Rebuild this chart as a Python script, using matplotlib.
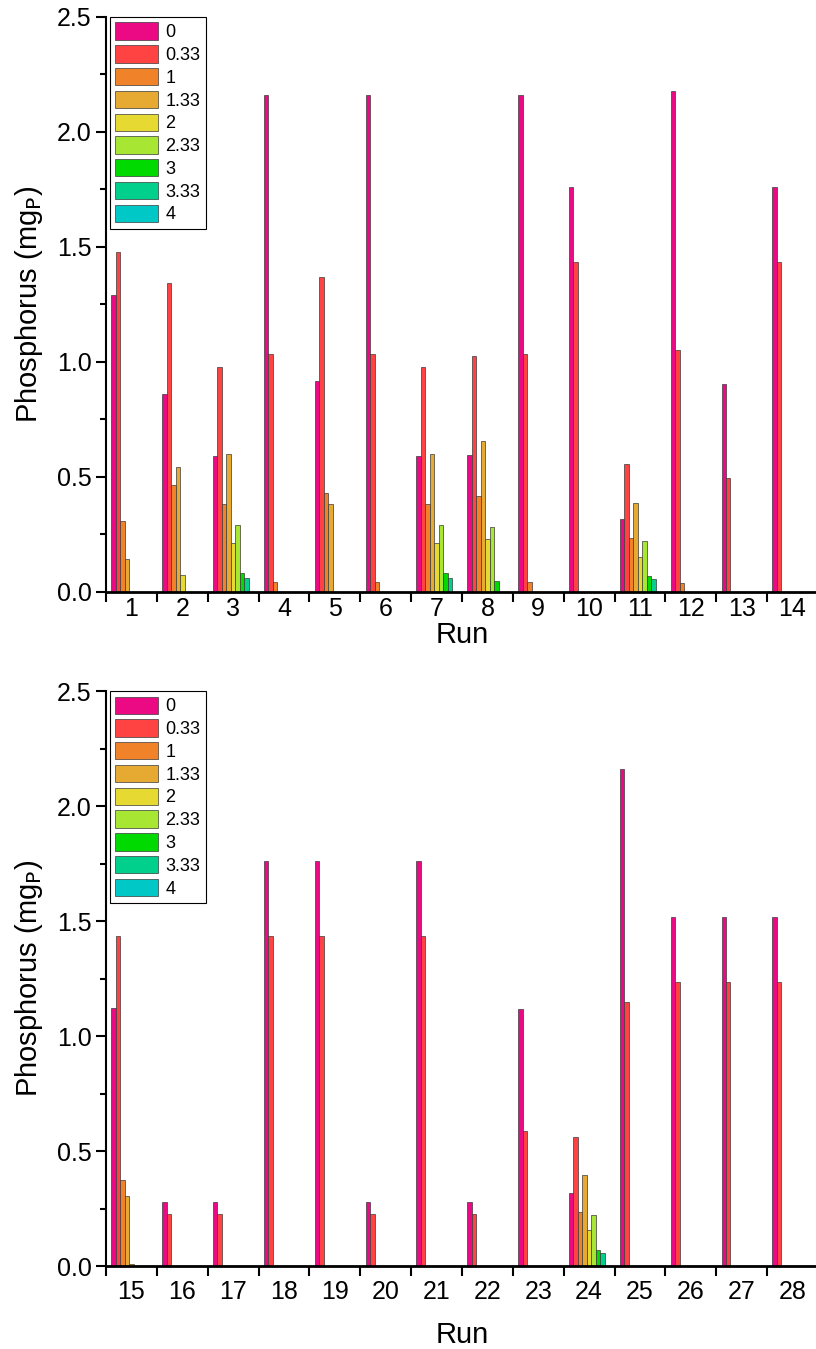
import numpy as np
import matplotlib.pyplot as plt
from matplotlib.ticker import MultipleLocator, FixedLocator

plt.rcParams['font.family'] = ['Liberation Sans', 'DejaVu Sans']

runs = np.arange(1, 29)
doses = ['0', '0.33', '1', '1.33', '2', '2.33', '3', '3.33', '4']
colors = ['#EC0A84', '#FF4242', '#F0832A', '#E6AA32', '#E6DA32',
          '#A8E634', '#00DA00', '#00D08C', '#00C8C6']

# phosphorus per run, one list per dose
p_0 = [1.29, 0.86, 0.59, 2.16, 0.917, 2.16, 0.59, 0.597, 2.16, 1.761, 0.317, 2.178, 0.904, 1.761,
       1.123, 0.277, 0.277, 1.761, 1.761, 0.277, 1.761, 0.277, 1.117, 0.317, 2.16, 1.516, 1.516, 1.516]
p_033 = [1.48, 1.345, 0.978, 1.035, 1.368, 1.035, 0.978, 1.025, 1.035, 1.435, 0.557, 1.051, 0.496, 1.435,
         1.435, 0.226, 0.226, 1.435, 1.435, 0.226, 1.435, 0.226, 0.587, 0.56, 1.15, 1.235, 1.235, 1.235]
p_1 = [0.31, 0.465, 0.383, 0.045, 0.43, 0.045, 0.383, 0.416, 0.045, 0, 0.235, 0.039, 0, 0,
       0.375, 0, 0, 0, 0, 0, 0, 0, 0, 0.235, 0, 0, 0, 0]
p_133 = [0.145, 0.545, 0.599, 0, 0.381, 0, 0.599, 0.655, 0, 0, 0.388, 0, 0, 0,
         0.303, 0, 0, 0, 0, 0, 0, 0, 0, 0.394, 0, 0, 0, 0]
p_2 = [0, 0.074, 0.214, 0, 0, 0, 0.214, 0.232, 0, 0, 0.154, 0, 0, 0,
       0.01, 0, 0, 0, 0, 0, 0, 0, 0, 0.155, 0, 0, 0, 0]
p_233 = [0, 0, 0.29, 0, 0, 0, 0.29, 0.284, 0, 0, 0.222, 0, 0, 0,
         0, 0, 0, 0, 0, 0, 0, 0, 0, 0.223, 0, 0, 0, 0]
p_3 = [0, 0, 0.083, 0, 0, 0, 0.083, 0.048, 0, 0, 0.07, 0, 0, 0,
       0, 0, 0, 0, 0, 0, 0, 0, 0, 0.07, 0, 0, 0, 0]
p_333 = [0, 0, 0.062, 0, 0, 0, 0.062, 0, 0, 0, 0.055, 0, 0, 0,
         0, 0, 0, 0, 0, 0, 0, 0, 0, 0.055, 0, 0, 0, 0]
p_4 = [0] * 28

series = [p_0, p_033, p_1, p_133, p_2, p_233, p_3, p_333, p_4]

fig = plt.figure(figsize=(8.16, 13.49), dpi=100)
ax_top = fig.add_axes([0.1299, 0.5612, 0.8725, 0.4262])
ax_bot = fig.add_axes([0.1299, 0.0615, 0.8725, 0.4262])

w = 0.088
# (axes, runs shown, tick label pad, xlabel pad)
panels = [(ax_top, slice(0, 14), 4, 0), (ax_bot, slice(14, 28), 10, 12)]
for ax, sl, tpad, lpad in panels:
    r = runs[sl]
    pos = np.arange(1, len(r) + 1)
    for i, (vals, c, lab) in enumerate(zip(series, colors, doses)):
        ax.bar(pos + (i - 4) * w, np.array(vals)[sl], width=w, color=c,
               edgecolor='#3a3a3a', linewidth=0.5, label=lab)

    ax.set_xlim(0.5, 14.5)
    ax.set_ylim(0, 2.5)
    ax.set_xticks(pos)
    ax.set_xticklabels([str(v) for v in r])
    ax.xaxis.set_minor_locator(FixedLocator(np.arange(0.5, 15, 1)))
    ax.yaxis.set_major_locator(MultipleLocator(0.5))
    ax.yaxis.set_minor_locator(MultipleLocator(0.25))
    ax.yaxis.set_major_formatter('{x:.1f}')
    ax.tick_params(axis='x', which='major', length=0, labelsize=18, pad=tpad)
    ax.tick_params(axis='x', which='minor', length=7, width=1.5, direction='out')
    ax.tick_params(axis='y', which='major', length=7, width=1.5, labelsize=18)
    ax.tick_params(axis='y', which='minor', length=4, width=1.5)
    for s in ['top', 'right']:
        ax.spines[s].set_visible(False)
    ax.spines['left'].set_linewidth(1.5)
    ax.spines['bottom'].set_linewidth(2)
    ax.set_xlabel('Run', fontsize=21, labelpad=lpad)
    ax.set_ylabel('Phosphorus (mg$_\\mathrm{P}$)', fontsize=21, labelpad=8)

    leg = ax.legend(loc='upper left', bbox_to_anchor=(0.005, 1.0), borderaxespad=0,
                    fontsize=13, handlelength=2.4, handleheight=1.1, labelspacing=0.22,
                    handletextpad=0.4, borderpad=0.3, fancybox=False, framealpha=1)
    leg.get_frame().set_edgecolor('black')
    leg.get_frame().set_linewidth(0.8)

fig.savefig('out.png', dpi=100)
